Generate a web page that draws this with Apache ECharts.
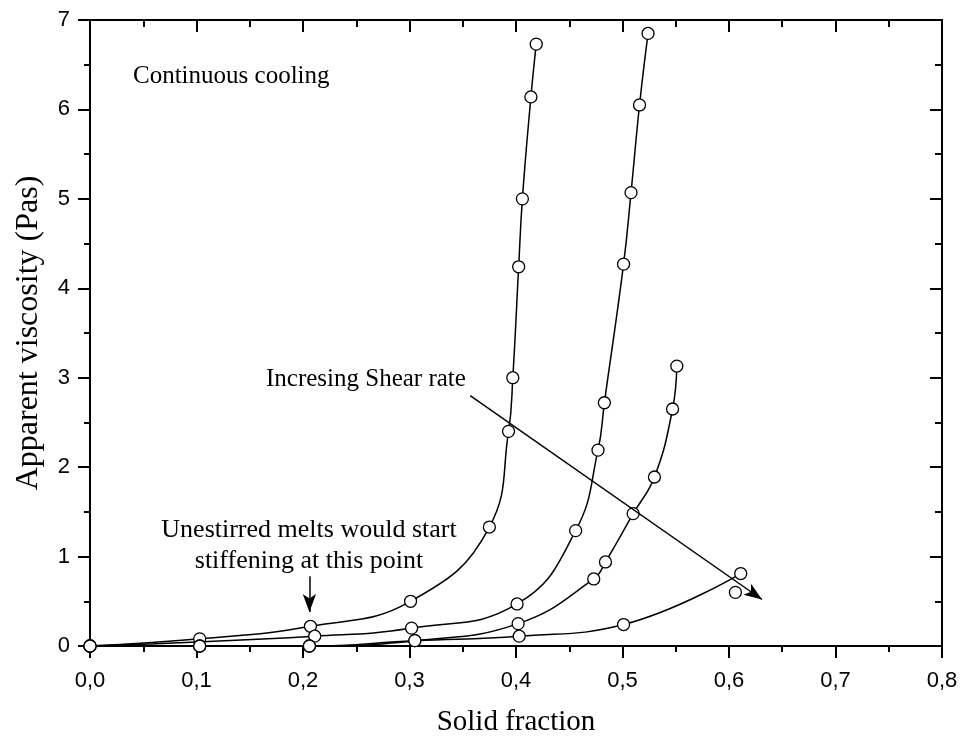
<!DOCTYPE html>
<html>
<head>
<meta charset="utf-8">
<script src="https://cdn.jsdelivr.net/npm/echarts@6/dist/echarts.min.js"></script>
<style>
  html, body { margin: 0; padding: 0; background: #fff; }
  #chart { width: 962px; height: 740px; }
</style>
</head>
<body>
<div id="chart"></div>
<script>
// Apparent viscosity vs. solid fraction under continuous cooling, four shear rates
const solidFraction1 = [0.0, 0.103, 0.207, 0.301, 0.375, 0.393, 0.397, 0.4025, 0.406, 0.414, 0.419];
const viscosity1     = [0.0, 0.08, 0.22, 0.50, 1.33, 2.40, 3.00, 4.24, 5.00, 6.14, 6.73];

const solidFraction2 = [0.0, 0.211, 0.302, 0.401, 0.456, 0.477, 0.483, 0.501, 0.508, 0.516, 0.524];
const viscosity2     = [0.0, 0.11, 0.20, 0.47, 1.29, 2.19, 2.72, 4.27, 5.07, 6.05, 6.85];

const solidFraction3 = [0.0, 0.103, 0.206, 0.305, 0.402, 0.473, 0.484, 0.510, 0.530, 0.547, 0.551];
const viscosity3     = [0.0, 0.0, 0.0, 0.06, 0.25, 0.75, 0.94, 1.48, 1.89, 2.65, 3.13];

const solidFraction4 = [0.0, 0.103, 0.206, 0.305, 0.403, 0.501, 0.611];
const viscosity4     = [0.0, 0.0, 0.0, 0.06, 0.11, 0.24, 0.81];

// stray measurement near the end of the lowest curve
const extraFraction  = [0.606];
const extraViscosity = [0.60];

const xTickValues = [0, 0.1, 0.2, 0.3, 0.4, 0.5, 0.6, 0.7, 0.8];
const yTickValues = [0, 1, 2, 3, 4, 5, 6, 7];

// annotation arrows (data coordinates)
const shearArrow     = [[0.357, 2.80], [0.631, 0.52]];
const stiffenArrow   = [[0.206, 0.78], [0.206, 0.38]];

const pairs = (xs, ys) => xs.map((x, i) => [x, ys[i]]);

const serifFont = '"Liberation Serif", "Times New Roman", serif';
const sansFont = '"Liberation Sans", Arial, sans-serif';

const lineSeries = (data) => ({
  type: 'line',
  data: data,
  smooth: 0.45,
  symbol: 'circle',
  symbolSize: 12,
  showAllSymbol: true,
  lineStyle: { color: '#000', width: 1.5 },
  itemStyle: { color: '#fff', borderColor: '#000', borderWidth: 1.3, opacity: 1 },
  emphasis: { disabled: true },
  silent: true,
  z: 3
});

const arrowMark = (seg) => ([
  { coord: seg[0], symbol: 'none' },
  { coord: seg[1], symbol: 'arrow', symbolSize: [10, 18] }
]);

const chart = echarts.init(document.getElementById('chart'), null, { renderer: 'canvas' });

const axisLineStyle = { color: '#000', width: 2 };

const option = {
  animation: false,
  backgroundColor: '#fff',
  grid: { left: 90, right: 20, top: 20, bottom: 94, containLabel: false, outerBoundsMode: 'none' },
  xAxis: [
    {
      type: 'value', min: 0, max: 0.8, interval: 0.1, position: 'bottom',
      name: 'Solid fraction', nameLocation: 'middle', nameGap: 62,
      nameTextStyle: { fontFamily: serifFont, fontSize: 29, color: '#000' },
      axisLine: { show: true, onZero: false, lineStyle: axisLineStyle },
      axisTick: { show: true, inside: false, length: 12, lineStyle: { color: '#000', width: 2 } },
      minorTick: { show: true, splitNumber: 2, length: 6, lineStyle: { color: '#000', width: 2 } },
      splitLine: { show: false },
      axisLabel: {
        margin: 24, fontFamily: sansFont, fontSize: 22, color: '#000',
        formatter: v => xTickValues.some(t => Math.abs(t - v) < 1e-9) ? v.toFixed(1).replace('.', ',') : ''
      }
    },
    {
      type: 'value', min: 0, max: 0.8, interval: 0.1, position: 'top',
      axisLine: { show: true, onZero: false, lineStyle: axisLineStyle },
      axisTick: { show: true, inside: true, length: 12, lineStyle: { color: '#000', width: 2 } },
      minorTick: { show: true, splitNumber: 2, length: 7, lineStyle: { color: '#000', width: 2 } },
      splitLine: { show: false },
      axisLabel: { show: false }
    }
  ],
  yAxis: [
    {
      type: 'value', min: 0, max: 7, interval: 1, position: 'left',
      name: 'Apparent viscosity (Pas)', nameLocation: 'middle', nameGap: 45,
      nameTextStyle: { fontFamily: serifFont, fontSize: 32, color: '#000' },
      axisLine: { show: true, onZero: false, lineStyle: axisLineStyle },
      axisTick: { show: true, inside: false, length: 12, lineStyle: { color: '#000', width: 2 } },
      minorTick: { show: true, splitNumber: 2, length: 6, lineStyle: { color: '#000', width: 2 } },
      splitLine: { show: false },
      axisLabel: {
        margin: 20, fontFamily: sansFont, fontSize: 22, color: '#000',
        formatter: v => yTickValues.includes(v) ? String(v) : ''
      }
    },
    {
      type: 'value', min: 0, max: 7, interval: 1, position: 'right',
      axisLine: { show: true, onZero: false, lineStyle: axisLineStyle },
      axisTick: { show: true, inside: true, length: 12, lineStyle: { color: '#000', width: 2 } },
      minorTick: { show: true, splitNumber: 2, length: 7, lineStyle: { color: '#000', width: 2 } },
      splitLine: { show: false },
      axisLabel: { show: false }
    }
  ],
  series: [
    lineSeries(pairs(solidFraction1, viscosity1)),
    lineSeries(pairs(solidFraction2, viscosity2)),
    lineSeries(pairs(solidFraction3, viscosity3)),
    Object.assign(lineSeries(pairs(solidFraction4, viscosity4)), {
      markLine: {
        silent: true,
        animation: false,
        label: { show: false },
        lineStyle: { color: '#000', width: 1.5, type: 'solid' },
        emphasis: { disabled: true },
        data: [arrowMark(shearArrow), arrowMark(stiffenArrow)]
      }
    }),
    {
      type: 'scatter',
      data: pairs(extraFraction, extraViscosity),
      symbol: 'circle',
      symbolSize: 12,
      itemStyle: { color: '#fff', borderColor: '#000', borderWidth: 1.3, opacity: 1 },
      emphasis: { disabled: true },
      silent: true,
      z: 4
    }
  ],
  graphic: [
    {
      type: 'text', left: 133, top: 64,
      style: { text: 'Continuous cooling', font: '25px ' + serifFont, fill: '#000' }
    },
    {
      type: 'text', left: 266, top: 367,
      style: { text: 'Incresing Shear rate', font: '25px ' + serifFont, fill: '#000' }
    },
    {
      type: 'text', x: 309, y: 515,
      style: {
        text: 'Unestirred melts would start\nstiffening at this point',
        font: '26px ' + serifFont, fill: '#000', align: 'center', lineHeight: 31
      }
    }
  ]
};

chart.setOption(option);
</script>
</body>
</html>
